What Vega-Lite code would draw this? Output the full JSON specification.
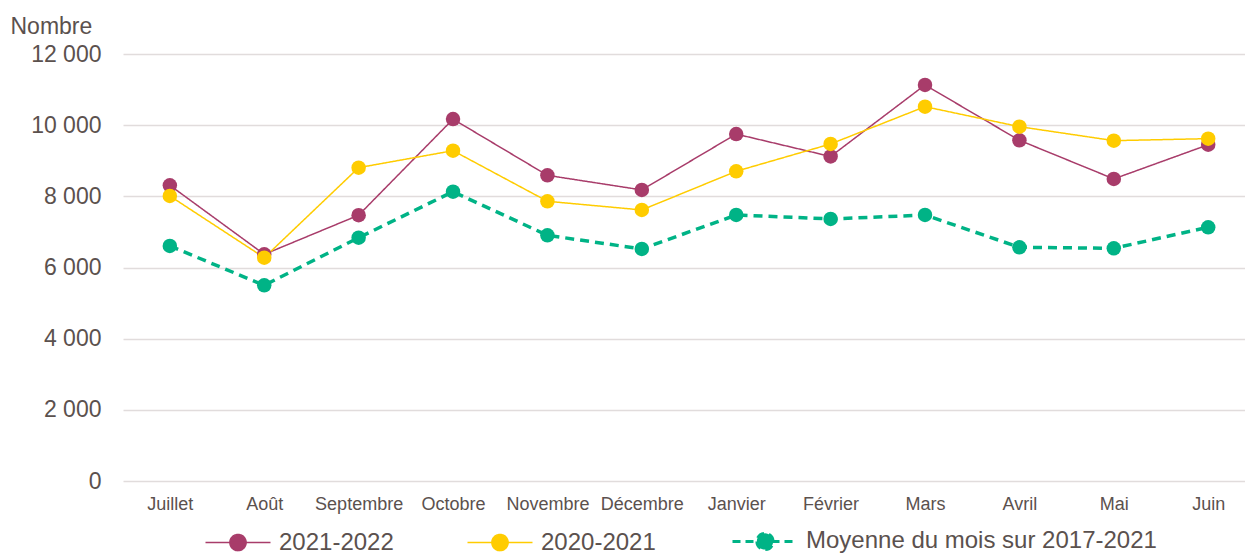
{
  "$schema": "https://vega.github.io/schema/vega-lite/v6.json",
  "width": 1122,
  "height": 427,
  "autosize": {"type": "none"},
  "padding": {"left": 123, "top": 54, "right": 0, "bottom": 73},
  "background": "white",
  "config": {
    "font": "Liberation Sans",
    "view": {"stroke": null}
  },
  "data": {
    "values": [
      {"mois": "Juillet", "serie": "Moyenne du mois sur 2017-2021", "valeur": 6605},
      {"mois": "Août", "serie": "Moyenne du mois sur 2017-2021", "valeur": 5500},
      {"mois": "Septembre", "serie": "Moyenne du mois sur 2017-2021", "valeur": 6838},
      {"mois": "Octobre", "serie": "Moyenne du mois sur 2017-2021", "valeur": 8131},
      {"mois": "Novembre", "serie": "Moyenne du mois sur 2017-2021", "valeur": 6905},
      {"mois": "Décembre", "serie": "Moyenne du mois sur 2017-2021", "valeur": 6521},
      {"mois": "Janvier", "serie": "Moyenne du mois sur 2017-2021", "valeur": 7476},
      {"mois": "Février", "serie": "Moyenne du mois sur 2017-2021", "valeur": 7364},
      {"mois": "Mars", "serie": "Moyenne du mois sur 2017-2021", "valeur": 7476},
      {"mois": "Avril", "serie": "Moyenne du mois sur 2017-2021", "valeur": 6568},
      {"mois": "Mai", "serie": "Moyenne du mois sur 2017-2021", "valeur": 6540},
      {"mois": "Juin", "serie": "Moyenne du mois sur 2017-2021", "valeur": 7130},
      {"mois": "Juillet", "serie": "2021-2022", "valeur": 8310},
      {"mois": "Août", "serie": "2021-2022", "valeur": 6370},
      {"mois": "Septembre", "serie": "2021-2022", "valeur": 7470},
      {"mois": "Octobre", "serie": "2021-2022", "valeur": 10170},
      {"mois": "Novembre", "serie": "2021-2022", "valeur": 8590},
      {"mois": "Décembre", "serie": "2021-2022", "valeur": 8180},
      {"mois": "Janvier", "serie": "2021-2022", "valeur": 9750},
      {"mois": "Février", "serie": "2021-2022", "valeur": 9120},
      {"mois": "Mars", "serie": "2021-2022", "valeur": 11130},
      {"mois": "Avril", "serie": "2021-2022", "valeur": 9575},
      {"mois": "Mai", "serie": "2021-2022", "valeur": 8490},
      {"mois": "Juin", "serie": "2021-2022", "valeur": 9450},
      {"mois": "Juillet", "serie": "2020-2021", "valeur": 8010},
      {"mois": "Août", "serie": "2020-2021", "valeur": 6276},
      {"mois": "Septembre", "serie": "2020-2021", "valeur": 8806},
      {"mois": "Octobre", "serie": "2020-2021", "valeur": 9283},
      {"mois": "Novembre", "serie": "2020-2021", "valeur": 7861},
      {"mois": "Décembre", "serie": "2020-2021", "valeur": 7617},
      {"mois": "Janvier", "serie": "2020-2021", "valeur": 8704},
      {"mois": "Février", "serie": "2020-2021", "valeur": 9472},
      {"mois": "Mars", "serie": "2020-2021", "valeur": 10520},
      {"mois": "Avril", "serie": "2020-2021", "valeur": 9958},
      {"mois": "Mai", "serie": "2020-2021", "valeur": 9565},
      {"mois": "Juin", "serie": "2020-2021", "valeur": 9621}
    ]
  },
  "encoding": {
    "x": {
      "field": "mois",
      "type": "nominal",
      "sort": ["Juillet", "Août", "Septembre", "Octobre", "Novembre", "Décembre", "Janvier", "Février", "Mars", "Avril", "Mai", "Juin"],
      "scale": {"type": "point", "padding": 0.443, "align": 0.56},
      "axis": {
        "title": null,
        "labelAngle": 0,
        "labelFontSize": 18,
        "labelColor": "#5b514e",
        "labelPadding": 14,
        "ticks": false,
        "domain": false,
        "grid": false
      }
    },
    "y": {
      "field": "valeur",
      "type": "quantitative",
      "scale": {"domain": [0, 12000], "nice": false},
      "axis": {
        "values": [0, 2000, 4000, 6000, 8000, 10000, 12000],
        "labelExpr": "replace(format(datum.value, ','), ',', ' ')",
        "labelFontSize": 23,
        "labelColor": "#5b514e",
        "labelPadding": 22,
        "ticks": false,
        "domain": false,
        "grid": true,
        "gridColor": "#e1dcdc",
        "gridWidth": 1.7,
        "title": "Nombre",
        "titleAngle": 0,
        "titleAlign": "left",
        "titleBaseline": "alphabetic",
        "titleX": -113,
        "titleY": -21,
        "titleFontSize": 23,
        "titleFontWeight": "normal",
        "titleColor": "#5b514e"
      }
    },
    "color": {
      "field": "serie",
      "type": "nominal",
      "scale": {
        "domain": ["2021-2022", "2020-2021", "Moyenne du mois sur 2017-2021"],
        "range": ["#a83c6a", "#ffcc00", "#00b386"]
      },
      "legend": {
        "title": null,
        "orient": "none",
        "legendX": 103,
        "legendY": 475,
        "direction": "horizontal",
        "columns": 3,
        "columnPadding": 70,
        "padding": 0,
        "symbolType": "M-1,0H1M-0.25,0A0.25,0.25 0 1,0 0.25,0A0.25,0.25 0 1,0 -0.25,0Z",
        "symbolSize": 4225,
        "labelFontSize": 24,
        "labelColor": "#5b514e",
        "labelOffset": 29,
        "labelLimit": 500,
        "encode": {
          "symbols": {
            "update": {
              "size": {"value": 4225},
              "fill": {"scale": "color", "field": "value"},
              "stroke": {"scale": "color", "field": "value"},
              "opacity": {"value": 1},
              "strokeWidth": {"signal": "datum.value === 'Moyenne du mois sur 2017-2021' ? 3 : 1.5"},
              "strokeDash": {"signal": "datum.value === 'Moyenne du mois sur 2017-2021' ? [8, 5] : [1, 0]"}
            }
          }
        }
      }
    }
  },
  "layer": [
    {
      "mark": {"type": "line"},
      "encoding": {
        "strokeWidth": {
          "condition": {"test": "datum.serie === 'Moyenne du mois sur 2017-2021'", "value": 3.5},
          "value": 1.5
        },
        "strokeDash": {
          "condition": {"test": "datum.serie === 'Moyenne du mois sur 2017-2021'", "value": [9, 6]},
          "value": [1, 0]
        }
      }
    },
    {
      "mark": {"type": "point", "filled": true, "opacity": 1, "size": 210}
    }
  ]
}
